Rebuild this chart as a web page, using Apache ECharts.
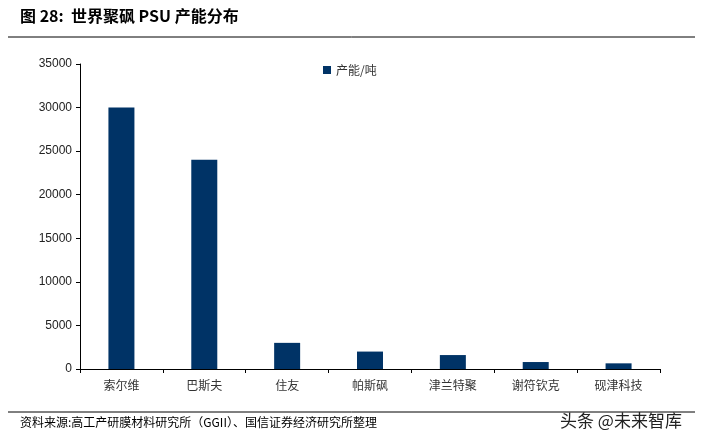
<!DOCTYPE html>
<html><head><meta charset="utf-8">
<script src="https://cdn.jsdelivr.net/npm/echarts@6/dist/echarts.min.js"></script>
<style>html,body{margin:0;padding:0;background:#fff}#c{width:703px;height:446px}</style>
</head><body><div id="c"></div>
<script>
const categories = ['索尔维','巴斯夫','住友','帕斯砜','津兰特聚','谢符钦克','砚津科技'];
const capacity = [30000, 24000, 3000, 2000, 1600, 800, 650];
const seriesName = '产能/吨';
const yTicks = {min: 0, max: 35000, interval: 5000};
const chart = echarts.init(document.getElementById('c'));
const F = '"Noto Sans CJK SC", sans-serif';
chart.setOption({
  animation: false,
  textStyle: {fontFamily: F},
  grid: {left: 80, right: 43, top: 64, bottom: 77},
  legend: {data: [seriesName], top: 59, left: 318, itemWidth: 8, itemHeight: 8, itemGap: 4,
    icon: 'rect', textStyle: {fontSize: 12, color: '#333', fontFamily: F}},
  xAxis: {type: 'category', data: categories,
    axisLine: {lineStyle: {color: '#000'}},
    axisTick: {show: true, lineStyle: {color: '#000'}, length: 4},
    axisLabel: {color: '#333', fontSize: 12, margin: 10, fontFamily: F}},
  yAxis: {type: 'value', min: yTicks.min, max: yTicks.max, interval: yTicks.interval,
    axisLine: {show: true, lineStyle: {color: '#000'}},
    axisTick: {show: true, lineStyle: {color: '#000'}, length: 4},
    splitLine: {show: false},
    axisLabel: {color: '#222', fontSize: 12, margin: 8, fontFamily: 'Liberation Sans, Arial', formatter: v => String(v)}},
  series: [{name: seriesName, type: 'bar', data: capacity, barWidth: 26, itemStyle: {color: '#003366'}}],
  graphic: [
    {type: 'text', left: 20, top: 8, style: {text: '图 28:  世界聚砜 PSU 产能分布', font: 'bold 16px "Noto Sans CJK SC", sans-serif', fill: '#000'}},
    {type: 'line', shape: {x1: 8, y1: 37, x2: 695, y2: 37}, style: {stroke: '#000', lineWidth: 1}},
    {type: 'line', shape: {x1: 8, y1: 412, x2: 695, y2: 412}, style: {stroke: '#000', lineWidth: 1}},
    {type: 'text', left: 20, top: 416, style: {text: '资料来源:高工产研膜材料研究所（GGII）、国信证券经济研究所整理', font: '12px "Noto Sans CJK SC", sans-serif', fill: '#000'}},
    {type: 'text', left: 560, top: 412, style: {text: '头条 @未来智库', font: '17px "Noto Sans CJK SC", sans-serif', fill: '#222'}}
  ]
});
</script></body></html>
